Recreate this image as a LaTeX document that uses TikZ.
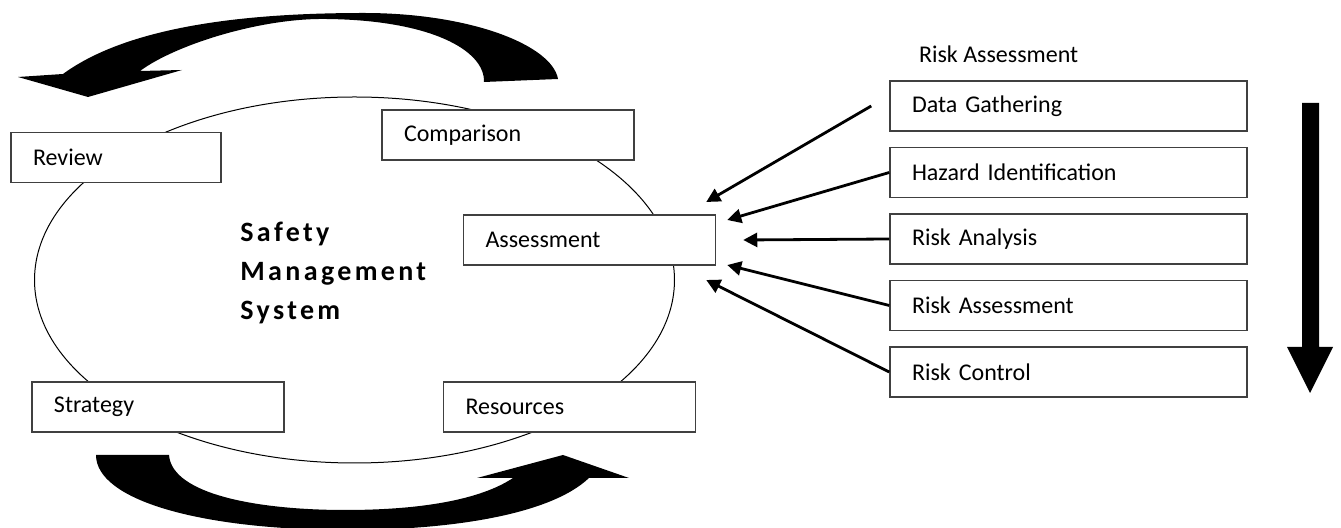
\documentclass[tikz,border=0pt]{standalone}
\usepackage{fontspec}
\setmainfont{Carlito}
\newfontfamily\smsfont[LetterSpace=12]{Carlito}
\usepackage{tikz}
\usetikzlibrary{calc,positioning,arrows.meta}

\begin{document}
\begin{tikzpicture}[x=0.5pt,y=-0.5pt,
  box/.style={draw=black!75,line width=0.75pt,fill=white,minimum height=25pt,
    inner xsep=11pt,align=left,font=\fontsize{12}{14}\selectfont},
  cyclebox/.style={box,text width=104pt},
  rabox/.style={box,text width=156.5pt},
  feed/.style={line width=1.4pt,-{Triangle[length=7pt,width=7pt]}}]
\useasboundingbox (0,0) rectangle (1341,528);

% the cycle
\draw[line width=0.5pt] (354.5,280) ellipse [x radius=160pt,y radius=91.5pt];
\node[box,text width=83pt] (review) at (116,157.5) {Review};
\node[cyclebox] (compar) at (508,135) {Comparison};
\node[cyclebox] (assess) at (589.5,240) {Assessment};
\node[cyclebox] (strat) at (158,407) {Strategy};
\node[cyclebox] (resour) at (569.5,407) {Resources};
\node[anchor=north west,inner sep=0pt,align=left,
  font=\smsfont\bfseries\fontsize{14}{19.5}\selectfont] (sms) at (240,222)
  {Safety\\Management\\System};

% curved arrows
\fill (484,82) .. controls (485,50) and (430,20) .. (326,19)
  .. controls (260,18) and (175,45) .. (140,71) -- (182,70) -- (88,97)
  -- (18,77) -- (63,74) .. controls (130,25) and (250,13) .. (364,13)
  .. controls (470,13) and (552,45) .. (558,79) -- cycle;
\fill (96,455) -- (169,455) .. controls (172,495) and (260,510) .. (345,510)
  .. controls (420,510) and (480,500) .. (513,478) -- (477,478) -- (563,455)
  -- (629,478) -- (589,478) .. controls (550,515) and (450,530) .. (348,530)
  .. controls (200,530) and (96,500) .. (96,455) -- cycle;

% risk assessment steps
\node[anchor=base west,font=\fontsize{12}{14}\selectfont] (ratitle) at (912,63) {Risk Assessment};
\node[rabox] (datag) at (1068.5,106) {Data Gathering};
\node[rabox,below=7.5pt of datag] (hazid) {Hazard Identification};
\node[rabox,below=7.5pt of hazid] (riskan) {Risk Analysis};
\node[rabox,below=7.5pt of riskan] (riskas) {Risk Assessment};
\node[rabox,below=7.5pt of riskas] (riskco) {Risk Control};

\coordinate (tipa) at ($(assess.east)+(-10,-38)$);
\coordinate (tipb) at ($(assess.east)+(11,-20)$);
\coordinate (tipc) at ($(assess.east)+(27,0)$);
\coordinate (tipd) at ($(assess.east)+(11,25)$);
\coordinate (tipe) at ($(assess.east)+(-10,40)$);

\draw[feed] ($(datag.west)+(-18,0)$) -- (tipa);
\draw[feed] (hazid.west) -- (tipb);
\draw[feed] (riskan.west) -- (tipc);
\draw[feed] (riskas.west) -- (tipd);
\draw[feed] (riskco.west) -- (tipe);

\fill (1302,103) -- (1319,103) -- (1319,347) -- (1333,347) -- (1310,393)
  -- (1287,347) -- (1302,347) -- cycle;
\end{tikzpicture}
\end{document}
